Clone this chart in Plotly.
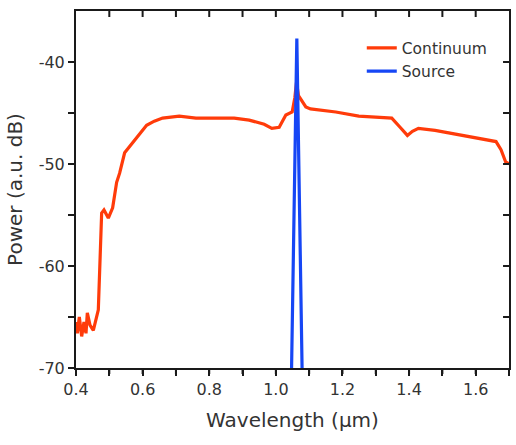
import plotly.graph_objects as go

# Continuum spectrum (wavelength in um, power in a.u. dB)
cont_x = [0.400, 0.404, 0.410, 0.417, 0.424, 0.430, 0.434, 0.442, 0.452, 0.460,
          0.467, 0.477, 0.484, 0.497, 0.510, 0.522, 0.531, 0.546, 0.570, 0.591,
          0.612, 0.635, 0.660, 0.710, 0.760, 0.820, 0.875, 0.920, 0.965, 0.988,
          1.010, 1.030, 1.049, 1.057, 1.062, 1.068, 1.075, 1.090, 1.104, 1.180,
          1.249, 1.330, 1.348, 1.373, 1.395, 1.410, 1.428, 1.478, 1.557, 1.661,
          1.676, 1.690, 1.700]
cont_y = [-65.5, -66.6, -65.0, -66.9, -65.5, -66.6, -64.6, -65.8, -66.3, -65.1,
          -64.3, -54.8, -54.5, -55.3, -54.3, -51.8, -50.9, -48.9, -47.9, -47.0,
          -46.2, -45.8, -45.5, -45.3, -45.5, -45.5, -45.5, -45.7, -46.1, -46.5,
          -46.4, -45.2, -44.9, -43.5, -42.0, -43.3, -43.7, -44.4, -44.6, -44.9,
          -45.3, -45.4, -45.5, -46.4, -47.2, -46.8, -46.5, -46.7, -47.2, -47.8,
          -48.6, -49.8, -50.0]

# Source (pump) line
src_x = [1.047, 1.063, 1.079]
src_y = [-70.5, -37.7, -70.5]

# tick positions and labels
x_ticks = [0.4, 0.5, 0.6, 0.7, 0.8, 0.9, 1.0, 1.1, 1.2, 1.3, 1.4, 1.5, 1.6, 1.7]
x_ticklabels = ["0.4", "", "0.6", "", "0.8", "", "1.0", "", "1.2", "", "1.4", "", "1.6", ""]
y_ticks = [-70, -65, -60, -55, -50, -45, -40]
y_ticklabels = ["-70", "", "-60", "", "-50", "", "-40"]

x_range = [0.4, 1.7]
y_range = [-70, -35]

font_family = "DejaVu Sans"
axis_col = "#1a1a1a"
text_col = "#333333"

W, H = 516, 445
M = dict(l=76, r=5, t=11, b=77)
plot_w = W - M["l"] - M["r"]
plot_h = H - M["t"] - M["b"]
tick_px = 6

fig = go.Figure()
fig.add_trace(go.Scatter(x=cont_x, y=cont_y, mode="lines", name="Continuum",
                         line=dict(color="#FF3B0A", width=3.2)))
fig.add_trace(go.Scatter(x=src_x, y=src_y, mode="lines", name="Source",
                         line=dict(color="#1646F5", width=3.2)))

# tick marks: outward on bottom/left, inward on top/right
dy = tick_px / plot_h
dx = tick_px / plot_w
for xv in x_ticks:
    fig.add_shape(type="line", xref="x", yref="paper", x0=xv, x1=xv, y0=0, y1=-dy,
                  line=dict(color=axis_col, width=2), layer="above")
    if x_range[0] < xv < x_range[1]:
        fig.add_shape(type="line", xref="x", yref="paper", x0=xv, x1=xv, y0=1, y1=1 - dy,
                      line=dict(color=axis_col, width=2), layer="above")
for yv in y_ticks:
    fig.add_shape(type="line", xref="paper", yref="y", x0=0, x1=-dx, y0=yv, y1=yv,
                  line=dict(color=axis_col, width=2), layer="above")
    if y_range[0] < yv < y_range[1]:
        fig.add_shape(type="line", xref="paper", yref="y", x0=1, x1=1 - dx, y0=yv, y1=yv,
                      line=dict(color=axis_col, width=2), layer="above")

fig.update_layout(
    width=W, height=H,
    margin=M,
    paper_bgcolor="white", plot_bgcolor="white",
    font=dict(family=font_family, color=text_col, size=16),
    showlegend=True,
    legend=dict(x=0.66, y=0.943, xanchor="left", yanchor="top",
                bgcolor="rgba(0,0,0,0)", font=dict(size=15.5, color=text_col),
                tracegroupgap=0),
    xaxis=dict(range=x_range, tickvals=x_ticks, ticktext=x_ticklabels,
               ticks="outside", ticklen=tick_px, tickwidth=2, tickcolor=axis_col,
               showline=True, linecolor=axis_col, linewidth=2, mirror=True,
               showgrid=False, zeroline=False,
               title=dict(text="Wavelength (\u03bcm)", font=dict(size=20))),
    yaxis=dict(range=y_range, tickvals=y_ticks, ticktext=y_ticklabels,
               ticks="outside", ticklen=tick_px, tickwidth=2, tickcolor=axis_col,
               showline=True, linecolor=axis_col, linewidth=2, mirror=True,
               showgrid=False, zeroline=False,
               title=dict(text="Power (a.u. dB)", font=dict(size=20), standoff=11)),
)

fig.write_html("out.html")
